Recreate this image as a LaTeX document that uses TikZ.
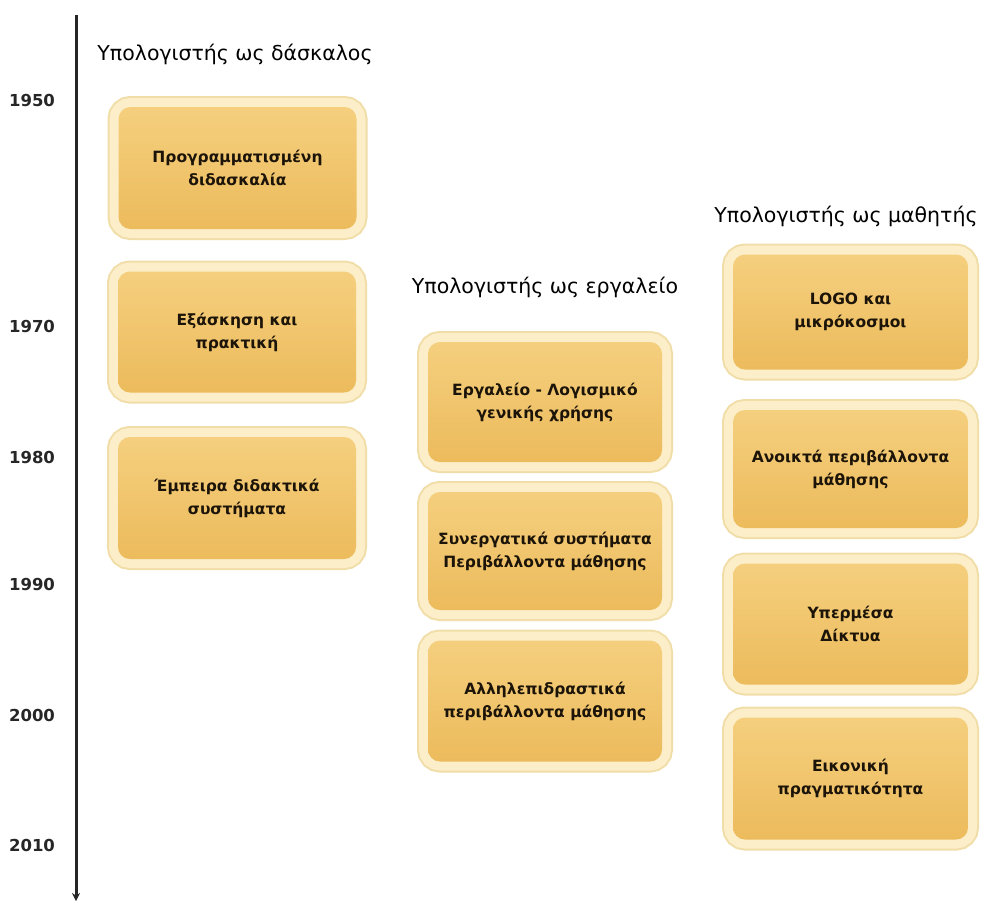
\documentclass[tikz,border=0pt]{standalone}
\usepackage{fontspec}
\setmainfont{DejaVu Sans}
\usetikzlibrary{arrows.meta}
\definecolor{goldtop}{HTML}{F5CF7E}
\definecolor{goldbot}{HTML}{ECBB5C}
\definecolor{glow}{HTML}{FBEEC8}
\definecolor{glowedge}{HTML}{F1DDA8}
\definecolor{txt}{HTML}{1C1408}
\begin{document}
\begin{tikzpicture}[x=1pt,y=-1pt]
\tikzset{
  gbox/.style={rounded corners=12pt, top color=goldtop, bottom color=goldbot,
    align=center, inner sep=0pt, text=txt,
    font=\bfseries\fontsize{15.5}{23}\selectfont,
    preaction={draw=glowedge, line width=22pt},
    preaction={draw=glow, line width=18pt}},
  hdr/.style={font=\fontsize{20.5}{24}\selectfont, text=black, inner sep=0pt},
  yr/.style={font=\bfseries\fontsize{16.5}{18}\selectfont, text=black!85, inner sep=0pt},
  axis/.style={line width=3pt, black!85, -{Stealth[length=8pt,width=8pt]}}
}
\useasboundingbox (0,0) rectangle (983,903);
\fill[white] (0,0) rectangle (983,903);

% timeline axis
\coordinate (atop) at (76,15);
\coordinate (abot) at (76,901);
\draw[axis] (atop) -- (abot);

% years
\node[yr] (y1950) at (32,100) {1950};
\node[yr] (y1970) at (32,326) {1970};
\node[yr] (y1980) at (32,457) {1980};
\node[yr] (y1990) at (32,584) {1990};
\node[yr] (y2000) at (32,715) {2000};
\node[yr] (y2010) at (32,845) {2010};

% headers
\node[hdr] (h1) at (235,54) {Υπολογιστής ως δάσκαλος};
\node[hdr] (h2) at (545,287) {Υπολογιστής ως εργαλείο};
\node[hdr] (h3) at (846,216) {Υπολογιστής ως μαθητής};

% column 1
\node[gbox, minimum width=238pt, minimum height=122pt] (b1) at (237.5,168) {Προγραμματισμένη\\διδασκαλία};
\node[gbox, minimum width=238pt, minimum height=121pt] (b2) at (237,332) {Εξάσκηση και\\πρακτική};
\node[gbox, minimum width=238pt, minimum height=122pt] (b3) at (237,498) {Έμπειρα διδακτικά\\συστήματα};

% column 2
\node[gbox, minimum width=234pt, minimum height=120pt] (b4) at (545,402) {Εργαλείο - Λογισμικό\\γενικής χρήσης};
\node[gbox, minimum width=234pt, minimum height=118pt] (b5) at (545,551) {Συνεργατικά συστήματα\\Περιβάλλοντα μάθησης};
\node[gbox, minimum width=234pt, minimum height=121pt] (b6) at (545,701) {Αλληλεπιδραστικά\\περιβάλλοντα μάθησης};

% column 3
\node[gbox, minimum width=235pt, minimum height=115pt] (b7) at (850.5,312) {LOGO και\\μικρόκοσμοι};
\node[gbox, minimum width=235pt, minimum height=118pt] (b8) at (850.5,469) {Ανοικτά περιβάλλοντα\\μάθησης};
\node[gbox, minimum width=235pt, minimum height=121pt] (b9) at (850.5,624) {Υπερμέσα\\Δίκτυα};
\node[gbox, minimum width=235pt, minimum height=122pt] (b10) at (850.5,778.5) {Εικονική\\πραγματικότητα};
\end{tikzpicture}
\end{document}
